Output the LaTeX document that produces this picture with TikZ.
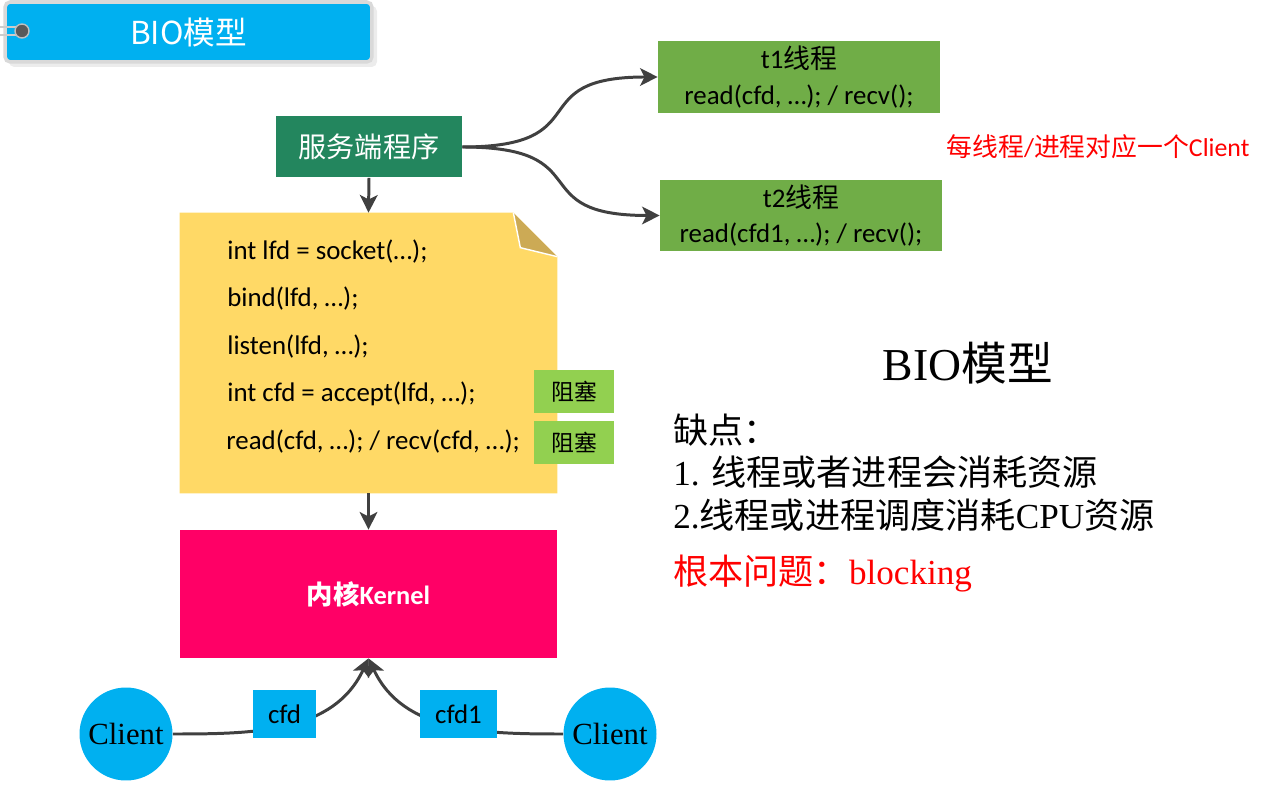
\documentclass[tikz,border=0pt]{standalone}
\usepackage{fontspec}
\setmainfont{Liberation Serif}
\setsansfont{Carlito}
\newfontfamily\cjk{Noto Sans CJK SC}
\usepackage{xcolor}
\usetikzlibrary{arrows.meta,positioning,calc}
\newcommand{\zh}[1]{{\cjk #1}}
\definecolor{tabblue}{HTML}{00B0F0}
\definecolor{servgreen}{HTML}{23865E}
\definecolor{thrgreen}{HTML}{70AD47}
\definecolor{blkgreen}{HTML}{92D050}
\definecolor{noteyellow}{HTML}{FFD966}
\definecolor{notefold}{HTML}{CCAA55}
\definecolor{kernelpink}{HTML}{FF0066}
\definecolor{arrgray}{HTML}{404040}

\begin{document}
\begin{tikzpicture}[
    x=0.02cm, y=-0.02cm,
    box/.style={rectangle, inner sep=0pt, font=\sffamily\fontsize{15.3}{20}\selectfont},
    code/.style={anchor=west, inner sep=0pt, font=\sffamily\fontsize{15.3}{18}\selectfont},
    thread/.style={box, fill=thrgreen, minimum width=5.64cm, minimum height=1.43cm, align=center},
    blk/.style={box, fill=blkgreen, minimum width=1.6cm, minimum height=0.86cm, font=\fontsize{13}{15}\selectfont\cjk},
    fdbox/.style={box, fill=tabblue, minimum height=0.96cm},
    client/.style={circle, fill=tabblue, minimum size=1.86cm, inner sep=0pt, font=\fontsize{17.5}{20}\selectfont},
    arr/.style={-{Stealth[length=10pt,width=10pt,inset=2.5pt]}, line width=1.7pt, draw=arrgray},
    note/.style={anchor=west, inner sep=0pt, font=\fontsize{20}{24}\selectfont}
]
    \useasboundingbox (0,0) rectangle (1280,786);

    % Title tab
    \fill[gray!15, rounded corners=3pt] (9,6) rectangle (377,67);
    \node[rectangle, rounded corners=3pt, fill=tabblue, draw=gray!30, line width=2pt,
          minimum width=7.34cm, minimum height=1.2cm, text=white,
          font=\fontsize{18}{20}\selectfont\cjk] (tab) at (188.5,32) {BIO模型};
    \draw[gray!40, line width=1.2pt] (0,27) -- (20,27);
    \draw[gray!40, line width=1.2pt] (0,35) -- (20,35);
    \fill[gray!70!black] (22,31) circle (7);
    \draw[gray!50, line width=0.8pt] (22,31) circle (7);

    % Server program and threads
    \node[box, fill=servgreen, text=white, minimum width=3.72cm, minimum height=1.22cm,
          font=\fontsize{16}{18}\selectfont\cjk] (server) at (369,147) {服务端程序};
    \node[thread] (t1) at (799,77) {t1\zh{线程}\\read(cfd, …); / recv();};
    \node[thread] (t2) at (801,215.5) {t2\zh{线程}\\read(cfd1, …); / recv();};
    \draw[arr] (server.east) to[out=0, in=180, looseness=1.7] (t1.west);
    \draw[arr] (server.east) to[out=0, in=180, looseness=1.7] (t2.west);
    \node[text=red, font=\sffamily\fontsize{14.7}{16}\selectfont] (perclient) at (1098,147)
        {\zh{每线程}/\zh{进程对应一个}Client};

    % Code note with folded corner
    \node[minimum width=7.54cm, minimum height=5.6cm, inner sep=0pt] (note) at (368.5,353) {};
    \fill[noteyellow] (note.south west) -- (note.north west) -- ($(note.north east)+(-44,0)$)
        -- ($(note.north east)+(0,44)$) -- (note.south east) -- cycle;
    \fill[notefold] ($(note.north east)+(-44,0)$) -- ($(note.north east)+(-37,35)$)
        -- ($(note.north east)+(0,44)$) -- cycle;
    \draw[white, line width=0.8pt] ($(note.north east)+(-44,0)$) -- ($(note.north east)+(-37,35)$)
        -- ($(note.north east)+(0,44)$);
    \node[code] (c1) at (227,252) {int lfd = socket(…);};
    \node[code] (c2) at (227,299) {bind(lfd, …);};
    \node[code] (c3) at (227,347) {listen(lfd, …);};
    \node[code] (c4) at (227,394) {int cfd = accept(lfd, …);};
    \node[code] (c5) at (226,442) {read(cfd, …); / recv(cfd, …);};
    \node[blk] (b1) at (574,391.5) {阻塞};
    \node[blk] (b2) at (574,442.5) {阻塞};
    \draw[arr] (server.south) -- (note.north);

    % Kernel
    \node[box, fill=kernelpink, text=white, minimum width=7.54cm, minimum height=2.56cm,
          font=\sffamily\bfseries\fontsize{15}{18}\selectfont] (kernel) at (368.5,594) {\zh{内核}Kernel};
    \draw[arr] (note.south) -- (kernel.north);

    % Clients
    \node[client] (clientl) at (126,734) {Client};
    \node[client] (clientr) at (610,734) {Client};
    \draw[arr] (clientl.east) to[out=0, in=-115] (kernel.south);
    \draw[arr] (clientr.west) to[out=180, in=-65] (kernel.south);
    \node[fdbox, minimum width=1.26cm] (cfd) at (284.5,714) {cfd};
    \node[fdbox, minimum width=1.54cm] (cfd1) at (458.5,714) {cfd1};

    % Drawbacks
    \node[inner sep=0pt, font=\fontsize{26}{30}\selectfont] (title) at (968,363) {BIO\zh{模型}};
    \node[note] (n0) at (673,430) {\zh{缺点：}};
    \node[note] (n1) at (673,472) {1. \zh{线程或者进程会消耗资源}};
    \node[note] (n2) at (673,515) {2.\zh{线程或进程调度消耗}CPU\zh{资源}};
    \node[note, text=red] (n3) at (673,574) {\zh{根本问题：}blocking};
\end{tikzpicture}
\end{document}
